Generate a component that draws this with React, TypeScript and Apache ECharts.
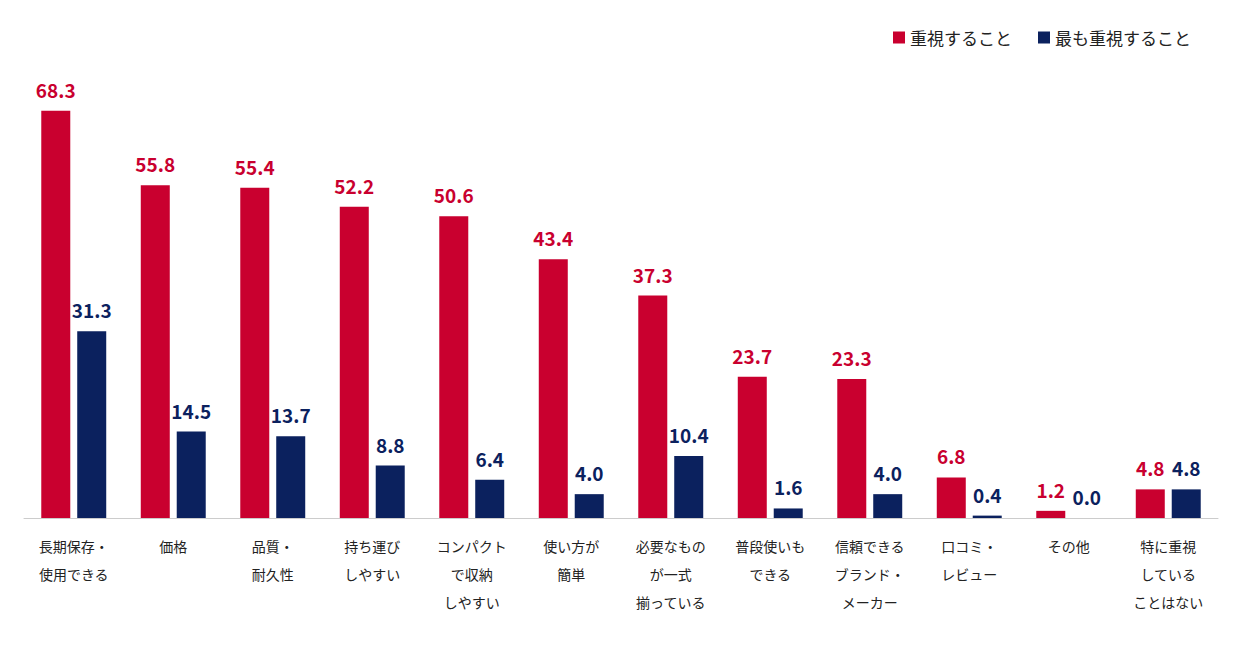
import { useEffect, useRef } from 'react'
import * as echarts from 'echarts'

const categories = [
  '長期保存・\n使用できる',
  '価格',
  '品質・\n耐久性',
  '持ち運び\nしやすい',
  'コンパクト\nで収納\nしやすい',
  '使い方が\n簡単',
  '必要なもの\nが一式\n揃っている',
  '普段使いも\nできる',
  '信頼できる\nブランド・\nメーカー',
  '口コミ・\nレビュー',
  'その他',
  '特に重視\nしている\nことはない',
]
const important = [68.3, 55.8, 55.4, 52.2, 50.6, 43.4, 37.3, 23.7, 23.3, 6.8, 1.2, 4.8]
const mostImportant = [31.3, 14.5, 13.7, 8.8, 6.4, 4.0, 10.4, 1.6, 4.0, 0.4, 0.0, 4.8]

const RED = '#c9002f'
const NAVY = '#0b215e'
const FONT = '"Noto Sans CJK JP", "Noto Sans", sans-serif'

export default function App() {
  const chartRef = useRef<HTMLDivElement>(null)

  useEffect(() => {
    if (!chartRef.current) return
    const chart = echarts.init(chartRef.current, null, { renderer: 'svg' })

    const label = (color: string) => ({
      show: true,
      position: 'top',
      distance: 12,
      color,
      fontSize: 19,
      fontWeight: 'bold',
      fontFamily: FONT,
      formatter: (p: any) => p.value.toFixed(1),
    })

    chart.setOption({
      animation: false,
      textStyle: { fontFamily: FONT },
      legend: {
        top: 24,
        right: 44,
        itemWidth: 12,
        itemHeight: 12,
        itemGap: 26,
        icon: 'rect',
        textStyle: { fontSize: 17, color: '#222', fontFamily: FONT },
      },
      grid: { left: 24, right: 22, top: 41, bottom: 131 },
      xAxis: {
        type: 'category',
        data: categories,
        axisTick: { show: false },
        axisLine: { lineStyle: { color: '#cccccc' } },
        axisLabel: {
          interval: 0,
          color: '#222',
          fontSize: 14,
          lineHeight: 28,
          margin: 14,
          fontFamily: FONT,
        },
      },
      yAxis: { type: 'value', min: 0, max: 80, show: false },
      series: [
        {
          name: '重視すること',
          type: 'bar',
          data: important,
          barWidth: 29,
          barGap: '24%',
          itemStyle: { color: RED },
          label: label(RED),
        },
        {
          name: '最も重視すること',
          type: 'bar',
          data: mostImportant,
          barWidth: 29,
          itemStyle: { color: NAVY },
          label: label(NAVY),
        },
      ],
    })

    return () => chart.dispose()
  }, [])

  return (
    <div
      ref={chartRef}
      style={{ position: 'fixed', left: 0, top: 0, width: 1240, height: 649, background: '#fff' }}
    />
  )
}
